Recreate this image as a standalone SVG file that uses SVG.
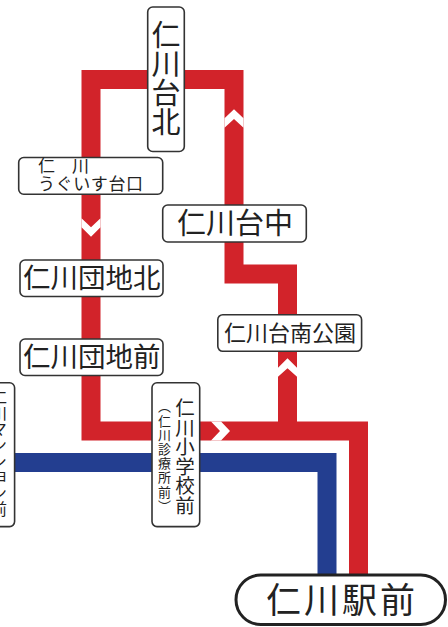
<svg xmlns="http://www.w3.org/2000/svg" width="448" height="627" viewBox="0 0 448 627">
<style>
.line{fill:none;stroke-width:19;stroke-linejoin:miter;stroke-linecap:butt}
.red{stroke:#d2232a}
.blue{stroke:#233e90}
.chev{fill:#fff}
.box{fill:#fff;stroke:#333;stroke-width:1.6}
text{font-family:"Noto Sans CJK JP","Noto Sans",sans-serif;fill:#222}
.v{writing-mode:vertical-rl;text-anchor:start}
</style>
<rect width="448" height="627" fill="#fff"/>
<g id="connectors">
<path class="line blue" d="M0 462.5H327V575"/>
<path class="line red" d="M358.5 575V431H91V79.5H234V274H287.5V440.5"/>
<polygon class="chev" points="224.5,118.3 234,109.3 243.5,118.3 243.5,127.7 234,119 224.5,127.7"/>
<polygon class="chev" points="81.5,218.3 91,227.3 100.5,218.3 100.5,227.3 91,236.7 81.5,227.3"/>
<polygon class="chev" points="278,367.7 287.5,358.3 297,367.7 297,376.7 287.5,368.3 278,376.7"/>
<polygon class="chev" points="211,421.5 220,431 211,440.5 221,440.5 230,431 221,421.5"/>
</g>
<g id="n-taihoku"><rect class="box" x="147.7" y="7" width="36.6" height="144.5" rx="5"/><text class="v" x="166" y="20" font-size="29">仁川台北</text></g>
<g id="n-uguisu"><rect class="box" x="18.7" y="157.5" width="144" height="36.7" rx="5"/><text x="38" y="172" font-size="17">仁　川</text><text x="38" y="190" font-size="17" letter-spacing="0.6">うぐいす台口</text></g>
<g id="n-taichu"><rect class="box" x="162.7" y="205" width="143.6" height="37" rx="5"/><text x="177" y="234" font-size="29">仁川台中</text></g>
<g id="n-danchikita"><rect class="box" x="20" y="260" width="143" height="36.5" rx="5"/><text x="23" y="288" font-size="27.5">仁川団地北</text></g>
<g id="n-danchimae"><rect class="box" x="20" y="339" width="143" height="36.5" rx="5"/><text x="23" y="367" font-size="27.5">仁川団地前</text></g>
<g id="n-tainan"><rect class="box" x="217.8" y="314.7" width="143.8" height="36.6" rx="5"/><text x="224" y="341" font-size="22">仁川台南公園</text></g>
<g id="n-shogakko"><rect class="box" x="152" y="382.8" width="47.7" height="143.8" rx="5"/><text class="v" x="185" y="398" font-size="19.5">仁川小学校前</text><text class="v" x="164.5" y="400" font-size="13" letter-spacing="1.2">（仁川診療所前）</text></g>
<g id="n-mansion"><rect class="box" x="-20" y="382.8" width="34.6" height="143.8" rx="5"/><text class="v" x="-1" y="389" font-size="16">仁川マンション前</text></g>
<g id="n-ekimae"><rect x="236" y="575" width="209.5" height="49.5" rx="24.7" fill="#fff" stroke="#222" stroke-width="3"/><text x="266" y="613" font-size="35" letter-spacing="3">仁川駅前</text></g>
</svg>
